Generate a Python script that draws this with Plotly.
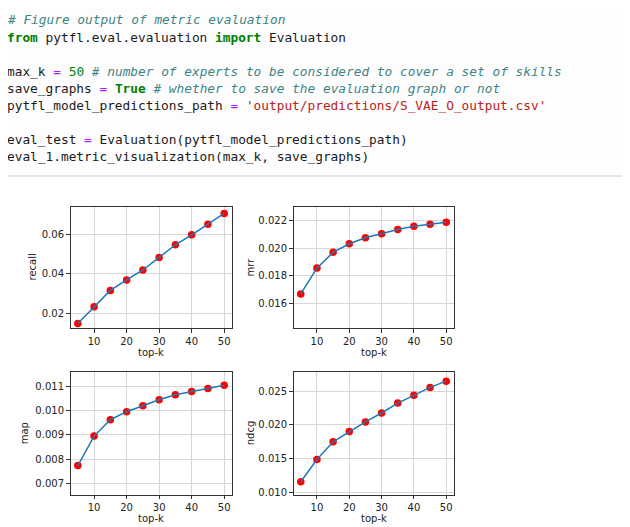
import plotly.graph_objects as go

# ---- data ----
top_k = [5, 10, 15, 20, 25, 30, 35, 40, 45, 50]
recall = [0.0150, 0.0235, 0.0317, 0.0370, 0.0420, 0.0483, 0.0547, 0.0597, 0.0650, 0.0705]
mrr = [0.01670, 0.01857, 0.01971, 0.02033, 0.02076, 0.02105, 0.02136, 0.02159, 0.02174, 0.02188]
map_vals = [0.00774, 0.00895, 0.00962, 0.00995, 0.01019, 0.01044, 0.01064, 0.01078, 0.01090, 0.01103]
ndcg = [0.0116, 0.0149, 0.0175, 0.01902, 0.02044, 0.02176, 0.02322, 0.02437, 0.02554, 0.02646]
metric_names = ["recall", "mrr", "map", "ndcg"]
x_ticks = [10, 20, 30, 40, 50]
y_ticks = {
    "recall": [0.02, 0.04, 0.06],
    "mrr": [0.016, 0.018, 0.020, 0.022],
    "map": [0.007, 0.008, 0.009, 0.010, 0.011],
    "ndcg": [0.010, 0.015, 0.020, 0.025],
}
y_ranges = {
    "recall": [0.0127, 0.0738],
    "mrr": [0.01423, 0.0230],
    "map": [0.00655, 0.01158],
    "ndcg": [0.0097, 0.02783],
}
y_formats = {"recall": ".2f", "mrr": ".3f", "map": ".3f", "ndcg": ".3f"}
series = {"recall": recall, "mrr": mrr, "map": map_vals, "ndcg": ndcg}

code_lines = [
    "<i><span style='color:#3d8585'># Figure output of metric evaluation</span></i>",
    "<b><span style='color:#008000'>from</span></b> pytfl.eval.evaluation <b><span style='color:#008000'>import</span></b> Evaluation",
    "",
    "max_k <span style='color:#aa22ff'>=</span> <span style='color:#008800'>50</span> <i><span style='color:#3d8585'># number of experts to be considered to cover a set of skills</span></i>",
    "save_graphs <span style='color:#aa22ff'>=</span> <b><span style='color:#008000'>True</span></b> <i><span style='color:#3d8585'># whether to save the evaluation graph or not</span></i>",
    "pytfl_model_predictions_path <span style='color:#aa22ff'>=</span> <span style='color:#ba2121'>'output/predictions/S_VAE_O_output.csv'</span>",
    "",
    "eval_test <span style='color:#aa22ff'>=</span> Evaluation(pytfl_model_predictions_path)",
    "eval_1.metric_visualization(max_k, save_graphs)",
]

# the page body has an 8px margin: size the figure to the visible area
OFF = 8
W, H = 630 - OFF, 527 - OFF
def px(x):
    return (x - OFF) / W
def py(y):
    return 1 - (y - OFF) / H

# axes boxes in window pixels: (left, right, top, bottom)
boxes = {
    "recall": (70.5, 231.5, 208, 330),
    "mrr": (293.5, 453.5, 208, 330),
    "map": (70.5, 231.5, 374, 497.5),
    "ndcg": (293.5, 453.5, 374, 497.5),
}

FS = 10
fig = go.Figure()
layout = dict(
    width=W, height=H, margin=dict(l=0, r=0, t=0, b=0),
    paper_bgcolor="white", plot_bgcolor="white", showlegend=False,
    font=dict(family="DejaVu Sans", size=FS, color="#222"),
)
annotations = []
shapes = []

text_col = "#222"
for i, name in enumerate(metric_names):
    n = "" if i == 0 else str(i + 1)
    l, r, t, b = boxes[name]
    xa = "x" + n
    ya = "y" + n
    fig.add_trace(go.Scatter(x=top_k, y=series[name], mode="markers",
                             marker=dict(color="red", size=7.5, line=dict(width=0)),
                             xaxis=xa, yaxis=ya, hoverinfo="skip"))
    fig.add_trace(go.Scatter(x=top_k, y=series[name], mode="lines",
                             line=dict(color="#1f77b4", width=1.5),
                             xaxis=xa, yaxis=ya))
    common = dict(showline=True, mirror=True, linecolor="#333", linewidth=1,
                  ticks="outside", ticklen=3.5, tickcolor="#333", tickwidth=1,
                  showgrid=True, gridcolor="#d6d6d6", gridwidth=1.4,
                  zeroline=False, tickfont=dict(family="DejaVu Sans", size=FS, color=text_col))
    layout["xaxis" + n] = dict(domain=[px(l), px(r)], range=[2.75, 52.25],
                               tickvals=x_ticks, anchor=ya, **common)
    layout["yaxis" + n] = dict(domain=[py(b), py(t)], range=y_ranges[name],
                               tickvals=y_ticks[name], tickformat=y_formats[name],
                               anchor=xa, **common)
    # axis titles
    annotations.append(dict(text="top-k", x=px((l + r) / 2), y=py(b + 24), xref="paper", yref="paper",
                            showarrow=False, xanchor="center", yanchor="middle",
                            font=dict(family="DejaVu Sans", size=FS, color=text_col)))
    ytitle_x = {"recall": 32, "mrr": 250, "map": 24, "ndcg": 250}[name]
    annotations.append(dict(text=name, x=px(ytitle_x), y=py((t + b) / 2), xref="paper", yref="paper",
                            showarrow=False, xanchor="center", yanchor="middle", textangle=-90,
                            font=dict(family="DejaVu Sans", size=FS, color=text_col)))

# code cell (left and top borders lie in the page margin)
shapes.append(dict(type="rect", xref="paper", yref="paper", x0=px(-5), x1=px(640),
                   y0=py(177), y1=py(5), line=dict(color="#cfcfcf", width=1), fillcolor="#fdfdfd",
                   layer="below"))
for k, line in enumerate(code_lines):
    if not line:
        continue
    annotations.append(dict(text=line, x=px(4.5), y=py(20 + k * 17.2), xref="paper", yref="paper",
                            showarrow=False, xanchor="left", yanchor="middle", align="left",
                            font=dict(family="DejaVu Sans Mono", size=12.8, color="#1a1a1a")))

layout["annotations"] = annotations
layout["shapes"] = shapes
fig.update_layout(**layout)
fig.write_html("out.html")
